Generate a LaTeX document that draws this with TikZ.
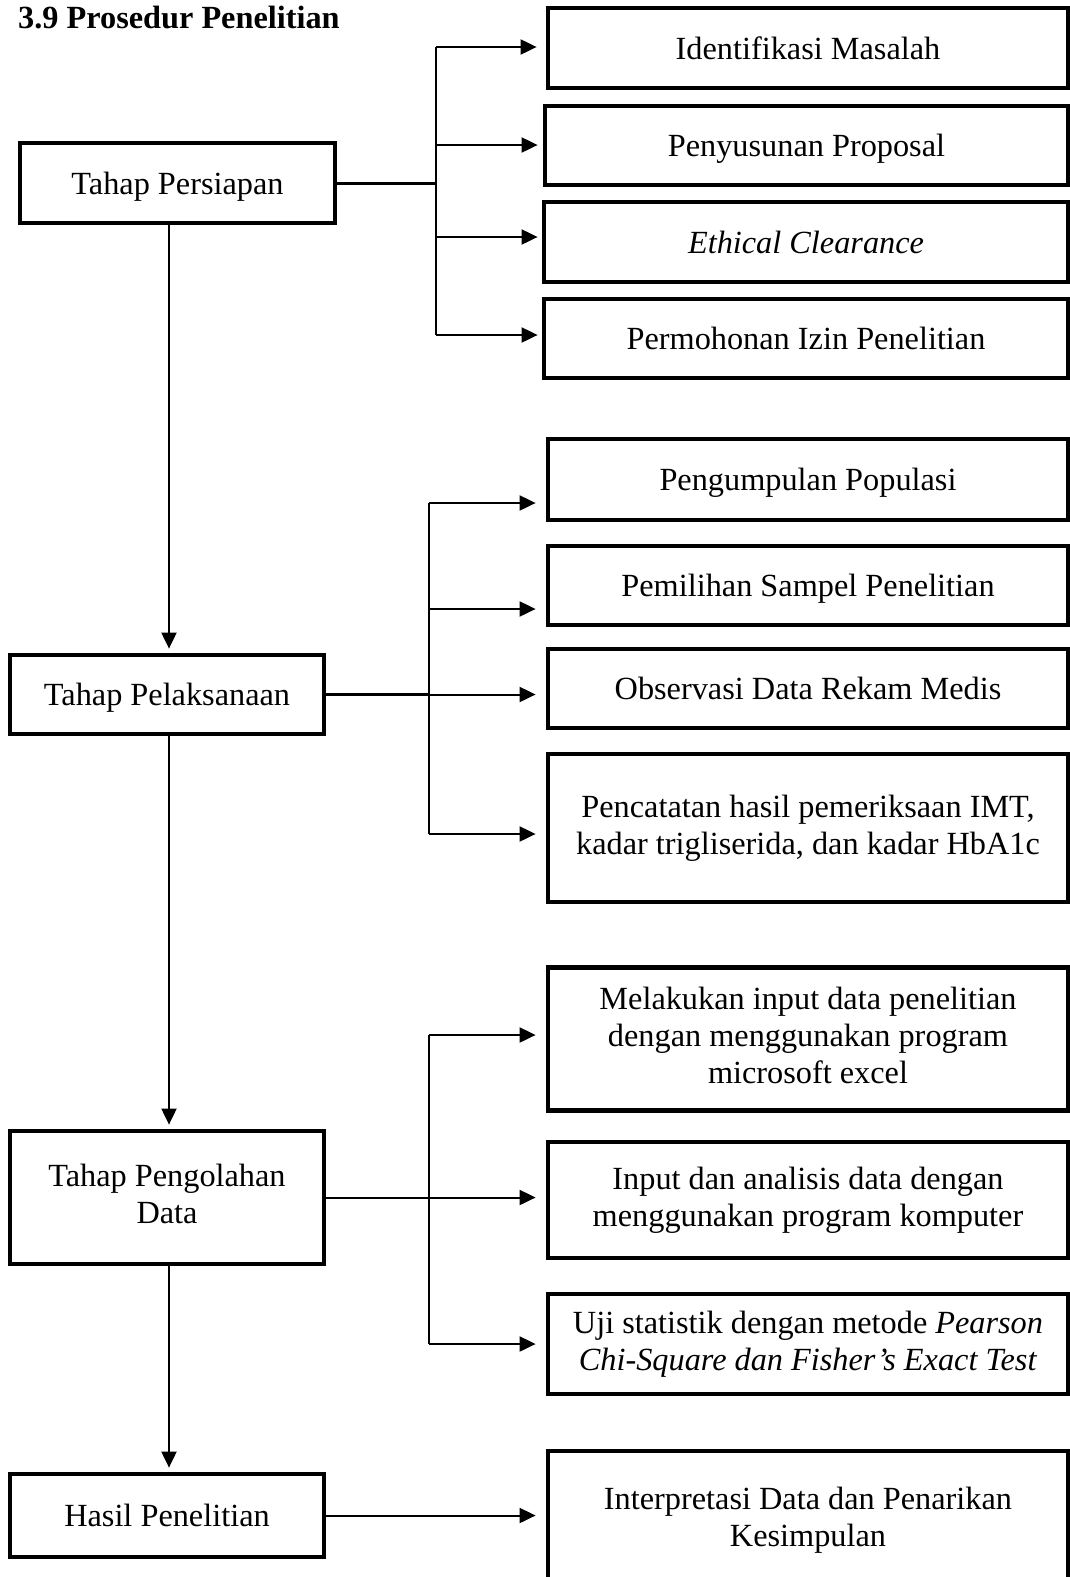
\documentclass[tikz,border=0pt]{standalone}
\usepackage{fontspec}
\setmainfont{Liberation Serif}
\usetikzlibrary{arrows.meta,calc}
\newcommand{\linestrut}{\rule[-7pt]{0pt}{36pt}}
\begin{document}
\begin{tikzpicture}[x=1pt,y=-1pt,
  txt/.style={font=\fontsize{32.3}{37}\selectfont, align=center,
    execute at begin node=\linestrut, execute at end node=\linestrut},
  box/.style={txt, draw, line width=4.8pt, rectangle, inner sep=0pt},
  conn/.style={line width=2pt},
  hconn/.style={line width=3pt},
  arr/.style={line width=2pt, -{Triangle[length=16pt,width=15pt]}},
]
\useasboundingbox (0,0) rectangle (1070,1577);
\clip (0,0) rectangle (1070,1577);
\fill[white] (0,0) rectangle (1070,1577);

% title
\node[anchor=base west, inner sep=0pt, font=\bfseries\fontsize{32.3}{37}\selectfont] (T) at (18,28) {3.9 Prosedur Penelitian};

% left column
\node[box, minimum width=315pt, minimum height=80pt] (P1) at (177.5,183) {Tahap Persiapan};
\node[box, minimum width=314pt, minimum height=79pt] (P2) at (167,694.5) {Tahap Pelaksanaan};
\node[box, minimum width=314pt, minimum height=133pt] (P3) at (167,1197.5) {Tahap Pengolahan\\Data};
\node[box, minimum width=314pt, minimum height=83pt] (P4) at (167,1515.5) {Hasil Penelitian};

% right column, group 1
\node[box, minimum width=520pt, minimum height=80pt] (R1) at (808,48) {Identifikasi Masalah};
\node[box, minimum width=523pt, minimum height=79pt] (R2) at (806.5,145.5) {Penyusunan Proposal};
\node[box, minimum width=524pt, minimum height=80pt] (R3) at (806,242) {\itshape Ethical Clearance};
\node[box, minimum width=524pt, minimum height=79pt] (R4) at (806,338.5) {Permohonan Izin Penelitian};

% group 2
\node[box, minimum width=520pt, minimum height=81pt] (R5) at (808,479.5) {Pengumpulan Populasi};
\node[box, minimum width=520pt, minimum height=79pt] (R6) at (808,585.5) {Pemilihan Sampel Penelitian};
\node[box, minimum width=520pt, minimum height=79pt] (R7) at (808,688.5) {Observasi Data Rekam Medis};
\node[box, minimum width=520pt, minimum height=148pt] (R8) at (808,828) {Pencatatan hasil pemeriksaan IMT,\\kadar trigliserida, dan kadar HbA1c};

% group 3
\node[box, minimum width=520pt, minimum height=143pt] (R9) at (808,1039) {Melakukan input data penelitian\\dengan menggunakan program\\microsoft excel};
\node[box, minimum width=520pt, minimum height=116pt] (R10) at (808,1200) {Input dan analisis data dengan\\menggunakan program komputer};
\node[box, minimum width=520pt, minimum height=100pt] (R11) at (808,1344) {Uji statistik dengan metode \textit{Pearson}\\\textit{Chi-Square dan Fisher’s Exact Test}};

% group 4
\node[box, minimum width=520pt, minimum height=139pt] (R12) at (808,1520.5) {Interpretasi Data dan Penarikan\\Kesimpulan};

% spine (slightly right of the box centres, as in the reference)
\coordinate (S1) at ($(P2.north |- P1.south)+(2,0)$);
\coordinate (S2) at ($(P2.north)+(2,0)$);
\coordinate (S3) at ($(P3.north |- P2.south)+(2,0)$);
\coordinate (S4) at ($(P3.north)+(2,0)$);
\coordinate (S5) at ($(P4.north |- P3.south)+(2,0)$);
\coordinate (S6) at ($(P4.north)+(2,0)$);
\draw[arr, shorten >=4pt] (S1) -- (S2);
\draw[arr, shorten >=4pt] (S3) -- (S4);
\draw[arr, shorten >=4pt] (S5) -- (S6);

% group 1 connectors
\coordinate (J1a) at (436,47);
\coordinate (J1b) at (436,145);
\coordinate (J1m) at (436,183);
\coordinate (J1c) at (436,237);
\coordinate (J1d) at (436,335);
\draw[hconn] (P1.east) -- (J1m);
\draw[conn] (J1a) -- (J1d);
\draw[arr, shorten >=9pt] (J1a) -- (R1.west |- J1a);
\draw[arr, shorten >=5pt] (J1b) -- (R2.west |- J1b);
\draw[arr, shorten >=4pt] (J1c) -- (R3.west |- J1c);
\draw[arr, shorten >=4pt] (J1d) -- (R4.west |- J1d);

% group 2 connectors
\coordinate (J2a) at (429,503);
\coordinate (J2b) at (429,609);
\coordinate (J2c) at (429,694.5);
\coordinate (J2d) at (429,834);
\draw[hconn] (P2.east) -- (J2c);
\draw[conn] (J2a) -- (J2d);
\draw[arr, shorten >=10pt] (J2a) -- (R5.west |- J2a);
\draw[arr, shorten >=10pt] (J2b) -- (R6.west |- J2b);
\draw[arr, shorten >=10pt] (J2c) -- (R7.west |- J2c);
\draw[arr, shorten >=10pt] (J2d) -- (R8.west |- J2d);

% group 3 connectors
\coordinate (J3a) at (429,1035);
\coordinate (J3b) at (429,1197.5);
\coordinate (J3c) at (429,1344);
\draw[conn] (P3.east) -- (J3b);
\draw[conn] (J3a) -- (J3c);
\draw[arr, shorten >=10pt] (J3a) -- (R9.west |- J3a);
\draw[arr, shorten >=10pt] (J3b) -- (R10.west |- J3b);
\draw[arr, shorten >=10pt] (J3c) -- (R11.west |- J3c);

% group 4
\draw[arr, shorten >=10pt] (P4.east) -- (R12.west |- P4.east);
\end{tikzpicture}
\end{document}
